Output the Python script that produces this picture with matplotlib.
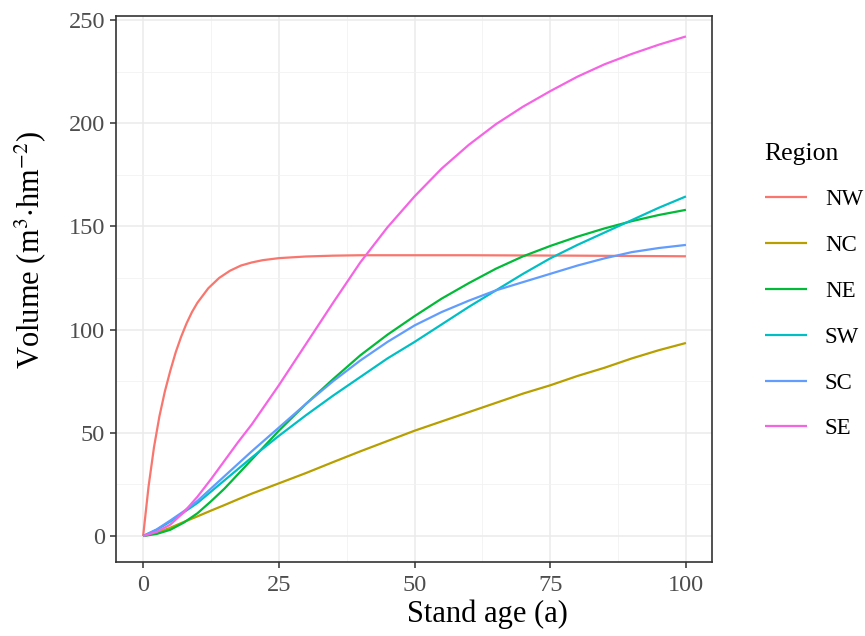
import matplotlib
matplotlib.use("Agg")
import matplotlib.pyplot as plt
from matplotlib.ticker import MultipleLocator

plt.rcParams['font.family'] = ['Liberation Serif', 'DejaVu Serif']
plt.rcParams['mathtext.fontset'] = 'stix'

regions = ['NW', 'NC', 'NE', 'SW', 'SC', 'SE']
colors = ['#F8766D', '#B79F00', '#00BA38', '#00BFC4', '#619CFF', '#F564E3']

age_nw = [0, 0.5, 1, 2, 3, 4, 5, 6, 7, 8, 9, 10, 12, 14, 16, 18, 20, 22, 25, 30, 35, 40, 60, 80, 100]
vol_nw = [0, 12, 24, 43, 58, 70, 80, 89, 96.5, 103, 108.5, 113, 120, 125, 128.5, 131, 132.5, 133.6, 134.6, 135.4, 135.8, 136, 136, 135.8, 135.5]

age = [0, 2.5, 5, 7.5, 10, 12.5, 15, 17.5, 20, 25, 30, 35, 40, 45, 50, 55, 60, 65, 70, 75, 80, 85, 90, 95, 100]
vol_nc = [0, 1.5, 4, 6.8, 9.5, 12.3, 15, 17.8, 20.5, 25.5, 30.5, 35.8, 41, 46, 51, 55.5, 60, 64.5, 69, 73, 77.5, 81.5, 86, 90, 93.5]
vol_ne = [0, 1, 3, 6.5, 11, 16.8, 23, 30, 37, 51, 64, 76, 87.5, 97.5, 106.5, 115, 122.5, 129.5, 135.5, 140.5, 145, 149, 152.5, 155.5, 158]
vol_sw = [0, 3, 7, 11.5, 16, 21.5, 27, 32.5, 38, 48.5, 58.5, 68, 77, 86, 94, 102.5, 111, 119, 127, 134.5, 141, 147, 153, 159, 164.5]
vol_sc = [0, 3.2, 7.5, 12, 17, 23, 29, 35, 41, 52.5, 64, 75, 85, 94, 102, 108.5, 114, 119, 123, 127, 131, 134.5, 137.5, 139.5, 141]
vol_se = [0, 2, 5.5, 11.5, 19, 27.5, 36.5, 45.5, 54, 73, 93, 113, 132.5, 149.5, 164.5, 178, 189.5, 199.5, 208, 215.5, 222.5, 228.5, 233.5, 238, 242]

series = [(age_nw, vol_nw), (age, vol_nc), (age, vol_ne), (age, vol_sw), (age, vol_sc), (age, vol_se)]

fig = plt.figure(figsize=(8.65, 6.36), dpi=100)
ax = fig.add_axes([116/865, 1-562/636, (712-116)/865, (562-16)/636])

for (x, y), name, c in zip(series, regions, colors):
    ax.plot(x, y, color=c, lw=1.6, label=name, solid_capstyle='butt', solid_joinstyle='round')

ax.set_xlim(-5, 104.8)
ax.set_ylim(-12.6, 251.9)
ax.xaxis.set_major_locator(MultipleLocator(25))
ax.xaxis.set_minor_locator(MultipleLocator(12.5))
ax.yaxis.set_major_locator(MultipleLocator(50))
ax.yaxis.set_minor_locator(MultipleLocator(25))
ax.grid(which='major', color='#EBEBEB', lw=1.1)
ax.grid(which='minor', color='#F2F2F2', lw=0.6)
ax.set_axisbelow(True)
ax.tick_params(which='major', length=4.5, width=1.1, color='#333333', labelcolor='#4D4D4D', labelsize=17.5)
ax.tick_params(axis='x', which='major', pad=5)
ax.tick_params(axis='y', which='major', pad=3.5)
ax.tick_params(which='minor', length=0)
for s in ax.spines.values():
    s.set_color('#333333')
    s.set_linewidth(1.2)

ax.set_xlabel('Stand age (a)', fontsize=22, color='black')
ax.xaxis.set_label_coords(0.624, -0.068)
ax.set_ylabel(r'Volume (m$^{3}$$\cdot$hm$^{-2}$)', fontsize=22, color='black')
ax.yaxis.set_label_coords(-0.114, 0.571)

leg = ax.legend(loc='upper left', bbox_to_anchor=(744/865, 1-122/636), bbox_transform=fig.transFigure,
                frameon=False, title='Region', fontsize=16.5, title_fontsize=18.5,
                handlelength=1.83, labelspacing=1.08, handletextpad=0.8, alignment='left')

fig.savefig('out.png', dpi=100)
